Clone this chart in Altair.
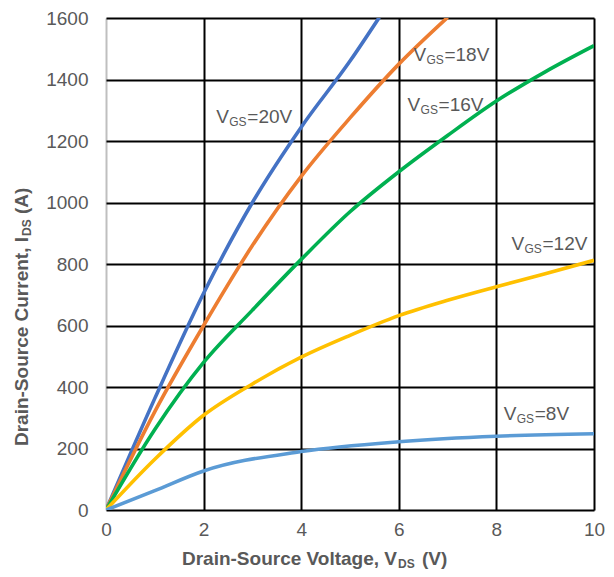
import altair as alt
import pandas as pd

# ---- data ----
vds_8 = [0, 1, 2, 4, 6, 8, 10]
ids_8 = [0, 63, 127, 190, 222, 240, 248]

vds_12 = [0, 1, 2, 3, 4, 5, 6, 7, 8, 9, 10]
ids_12 = [0, 165, 308, 410, 497, 568, 632, 682, 726, 768, 812]

vds_16 = [0, 1, 2, 3, 4, 5, 6, 7, 8, 9, 10]
ids_16 = [0, 262, 480, 650, 815, 970, 1100, 1218, 1330, 1425, 1510]

vds_18 = [0, 1, 2, 3, 4, 5, 6, 7]
ids_18 = [0, 320, 600, 860, 1085, 1275, 1450, 1602]

vds_20 = [0, 1, 2, 3, 4, 5, 5.6]
ids_20 = [0, 363, 705, 1000, 1245, 1460, 1602]

series_names = ["20V", "18V", "16V", "12V", "8V"]
series_colors = ["#4472C4", "#ED7D31", "#00B050", "#FFC000", "#5B9BD5"]

label_names = ["20V", "18V", "16V", "12V", "8V"]
label_x = [2.26, 6.30, 6.18, 8.31, 8.15]
label_y = [1258, 1461, 1297, 845, 294]

x_ticks = [0, 2, 4, 6, 8, 10]
y_ticks = [0, 200, 400, 600, 800, 1000, 1200, 1400, 1600]

rows = []
for name, xs, ys in [("20V", vds_20, ids_20), ("18V", vds_18, ids_18),
                     ("16V", vds_16, ids_16), ("12V", vds_12, ids_12),
                     ("8V", vds_8, ids_8)]:
    for i, (xv, yv) in enumerate(zip(xs, ys)):
        rows.append({"series": name, "vds": xv, "ids": yv, "order": i})
df = pd.DataFrame(rows)

lab = pd.DataFrame({"series": label_names, "vds": label_x, "ids": label_y,
                    "tail": ["=" + n for n in label_names]})

FONT = "Liberation Sans"
GRAY = "#595959"

xscale = alt.Scale(domain=[0, 10], nice=False)
yscale = alt.Scale(domain=[0, 1600], nice=False)

x_axis = alt.Axis(values=x_ticks, title=None, ticks=False, format="d",
                  domain=False, labelFont=FONT, labelFontSize=19,
                  labelColor=GRAY, labelPadding=10, labelFlush=False, grid=True,
                  gridColor={"condition": {"test": "datum.value === 0", "value": "#BFBFBF"},
                             "value": "#000000"},
                  gridWidth=2, gridOpacity=1)
y_axis = alt.Axis(values=y_ticks, title=None, ticks=False, format="d",
                  domain=False, labelFont=FONT, labelFontSize=19,
                  labelColor=GRAY, labelPadding=18, labelFlush=False, grid=True,
                  gridColor="#000000", gridWidth=2, gridOpacity=1)

lines = alt.Chart(df).mark_line(strokeWidth=3.6, interpolate="monotone", clip=True).encode(
    x=alt.X("vds:Q", scale=xscale, axis=x_axis),
    y=alt.Y("ids:Q", scale=yscale, axis=y_axis),
    color=alt.Color("series:N", scale=alt.Scale(domain=series_names, range=series_colors),
                    legend=None),
    order="order:Q",
    detail="series:N",
)

base_lab = alt.Chart(lab).encode(
    x=alt.X("vds:Q", scale=xscale),
    y=alt.Y("ids:Q", scale=yscale),
)
lab_v = base_lab.mark_text(align="left", baseline="alphabetic", font=FONT,
                           fontSize=19, color=GRAY).encode(text=alt.value("V"))
lab_gs = base_lab.mark_text(align="left", baseline="alphabetic", font=FONT,
                            fontSize=12, color=GRAY, dx=13, dy=3).encode(text=alt.value("GS"))
lab_tail = base_lab.mark_text(align="left", baseline="alphabetic", font=FONT,
                              fontSize=19, color=GRAY, dx=31).encode(text="tail:N")

# axis titles with subscripts (plot origin at page 106,18)
anchor = pd.DataFrame({"k": [0]})
tb = dict(font=FONT, fontWeight="bold", color=GRAY, baseline="alphabetic")
xt1 = alt.Chart(anchor).mark_text(align="right", fontSize=19, **tb).encode(
    x=alt.value(291), y=alt.value(547), text=alt.value("Drain-Source Voltage, V"))
xt2 = alt.Chart(anchor).mark_text(align="left", fontSize=12, **tb).encode(
    x=alt.value(292), y=alt.value(550), text=alt.value("DS"))
xt3 = alt.Chart(anchor).mark_text(align="left", fontSize=19, **tb).encode(
    x=alt.value(316), y=alt.value(547), text=alt.value(" (V)"))

yt1 = alt.Chart(anchor).mark_text(align="right", angle=270, fontSize=19, **tb).encode(
    x=alt.value(-78), y=alt.value(219), text=alt.value("Drain-Source Current, I"))
yt2 = alt.Chart(anchor).mark_text(align="left", angle=270, fontSize=12, **tb).encode(
    x=alt.value(-75), y=alt.value(218), text=alt.value("DS"))
yt3 = alt.Chart(anchor).mark_text(align="left", angle=270, fontSize=19, **tb).encode(
    x=alt.value(-78), y=alt.value(196), text=alt.value(" (A)"))

chart = alt.layer(lines, lab_v, lab_gs, lab_tail, xt1, xt2, xt3, yt1, yt2, yt3).properties(
    width=488, height=492,
    autosize=alt.AutoSizeParams(type="none"),
    padding={"left": 98, "top": 10, "right": 12, "bottom": 66},
).configure_view(stroke=None).configure(background="white")

chart.save("out.html", embed_options={"renderer": "svg", "actions": False})
